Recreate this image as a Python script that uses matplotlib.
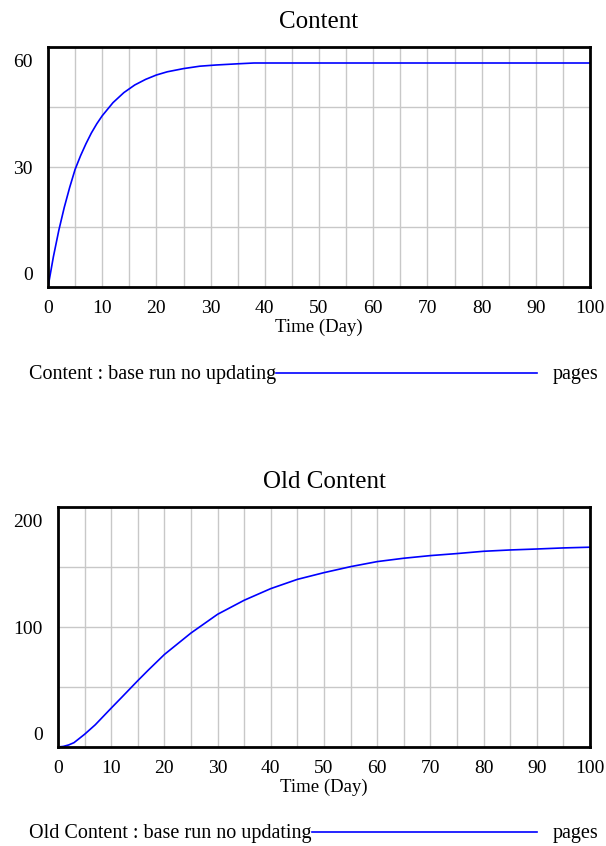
import matplotlib
matplotlib.use("Agg")
import matplotlib.pyplot as plt
from matplotlib.lines import Line2D
from matplotlib.transforms import ScaledTranslation

plt.rcParams['font.family'] = ['Liberation Serif', 'DejaVu Serif']

# Content : base run no updating (pages)
content_days = [0, 1, 2, 3, 4, 5, 6, 7, 8, 9, 10, 12, 14, 16, 18, 20, 22, 25,
                28, 31, 35, 38, 40, 50, 60, 70, 80, 90, 100]
content_pages = [0, 7.6, 14.2, 19.9, 24.9, 29.4, 32.8, 35.8, 38.5, 40.8, 42.8,
                 46.1, 48.6, 50.5, 51.9, 53.0, 53.8, 54.6, 55.2, 55.5, 55.8,
                 56.0, 56.0, 56.0, 56.0, 56.0, 56.0, 56.0, 56.0]

# Old Content : base run no updating (pages)
old_days = [0, 1, 2, 3, 5, 7, 10, 12, 15, 17, 20, 25, 30, 35, 40, 45, 50, 55,
            60, 65, 70, 75, 80, 85, 90, 95, 100]
old_pages = [0, 0.5, 1.7, 3.6, 10.6, 18.5, 32.4, 41.5, 55.3, 64.2, 77.1, 95.0,
             110.6, 122.3, 132.0, 139.7, 145.3, 150.3, 154.5, 157.3, 159.5,
             161.2, 163.1, 164.2, 165.0, 165.9, 166.5]

fig = plt.figure(figsize=(6.06, 8.46), dpi=100)
W, H = 606, 846


def panel(rect, days, pages, title, ymax, legend_label, legend_y):
    ax = fig.add_axes(rect)
    ax.plot(days, pages, color='#0000ff', lw=1.2)
    ax.set_xlim(0, 100)
    ax.set_ylim(0, ymax)
    ax.set_xticks(range(0, 101, 10))
    ax.set_xticks(range(5, 100, 10), minor=True)
    ax.set_yticks([0, ymax / 2, ymax])
    ax.set_yticklabels(['0', str(int(ymax / 2)), str(int(ymax))])
    ax.set_yticks([ymax / 4, 3 * ymax / 4], minor=True)
    ax.grid(True, which='both', color='#c8c8c8', lw=1)
    ax.set_axisbelow(True)
    ax.tick_params(which='both', length=0, labelsize=14)
    ax.tick_params(axis='x', pad=9.5)
    ax.tick_params(axis='y', pad=11)
    for s in ax.spines.values():
        s.set_linewidth(2)
        s.set_color('black')
    labs = ax.get_yticklabels()
    labs[0].set_transform(labs[0].get_transform() + ScaledTranslation(0, 10 / 72, fig.dpi_scale_trans))
    labs[-1].set_transform(labs[-1].get_transform() + ScaledTranslation(0, -10 / 72, fig.dpi_scale_trans))
    ax.set_title(title, fontsize=18, pad=14)
    ax.set_xlabel('Time (Day)', fontsize=13.5, labelpad=1)

    t = fig.text(29 / W, 1 - legend_y / H, legend_label, fontsize=14.5,
                 ha='left', va='center')
    fig.text(553 / W, 1 - legend_y / H, 'pages', fontsize=14.5, ha='left', va='center')
    fig.canvas.draw()
    bb = t.get_window_extent()
    x0 = bb.x1 / W
    fig.add_artist(Line2D([x0, 537 / W], [1 - (legend_y - 1) / H] * 2,
                          color='#0000ff', lw=1.2, transform=fig.transFigure))
    return ax


panel([48 / W, 1 - 287 / H, 542 / W, 240 / H], content_days, content_pages,
      'Content', 60, 'Content : base run no updating', 374)
panel([58 / W, 1 - 747 / H, 532 / W, 240 / H], old_days, old_pages,
      'Old Content', 200, 'Old Content : base run no updating', 833)

fig.savefig('out.png', dpi=100)
